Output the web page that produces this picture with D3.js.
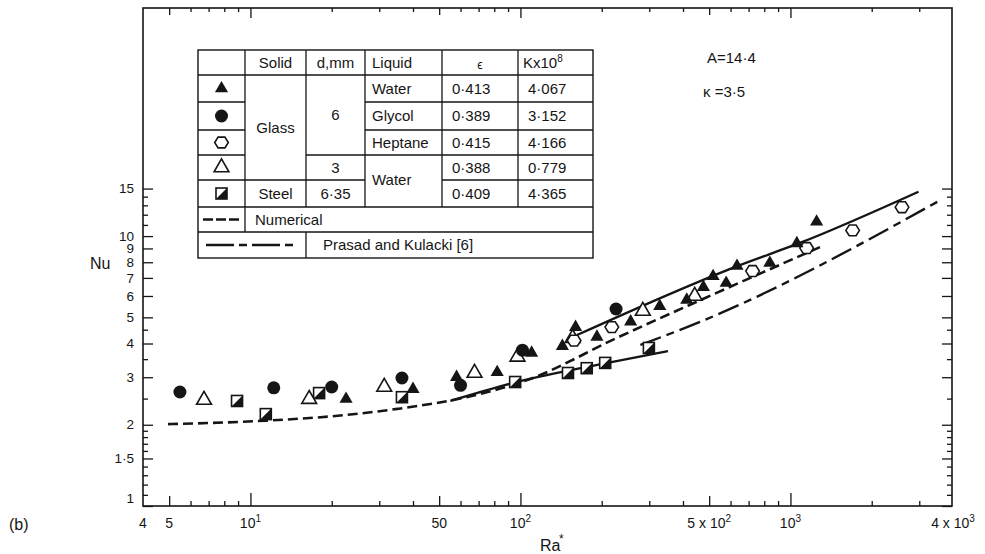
<!DOCTYPE html>
<meta charset="utf-8">
<script src="https://d3js.org/d3.v7.min.js"></script>
<style>
  body { margin: 0; background: #fff; }
  text { font-family: "Liberation Sans", Arial, sans-serif; fill: #151515; }
</style>
<div id="my_dataviz"></div>
<script>

// ---- data (Ra*, Nu) ----
var waterGlass6 = [[22.6,2.49],[40,2.71],[58,3.0],[82,3.13],[110,3.69],[143,3.91],[160,4.6],[192,4.23],
  [256,4.82],[328,5.5],[413,5.8],[476,6.47],[517,7.1],[578,6.7],[634,7.75],[839,7.95],[1056,9.4],[1250,11.3]]
var glycol = [[5.48,2.645],[12.2,2.74],[20,2.76],[36.4,2.98],[60,2.8],[101.7,3.78],[226,5.37]]
var heptane = [[158,4.1],[218,4.6],[724,7.42],[1148,9.03],[1700,10.5],[2590,12.8]]
var waterGlass3 = [[6.73,2.47],[16.5,2.49],[31.3,2.76],[67.6,3.11],[97.5,3.57],[156,4.19],[284,5.28],[442,6.0]]
var steel = [[8.92,2.45],[11.4,2.19],[17.96,2.62],[36.4,2.53],[95.6,2.88],[150,3.11],[176,3.24],[206,3.39],[299,3.85]]

var numerical = [[4.95,2.01],[11.3,2.07],[20,2.15],[35,2.29],[63,2.53],[108,2.95],[228,4.2],[460,5.77],[1286,9.1]]
var lowerSolid = [[55,2.45],[97,2.88],[210,3.39],[352,3.75]]
var upperSolid = [[162,4.3],[650,7.81],[1083,9.43],[2980,14.6]]
var prasad = [[278,3.95],[460,4.8],[3644,13.7]]

// ticks
var xMajor = [10, 100, 1000]
var xMid = [5, 50, 500]
var xMinor = [6,7,8,9,20,30,40,60,70,80,90,200,300,400,600,700,800,900,2000,3000]
var yMajor = [1, 1.5, 2, 3, 4, 5, 6, 7, 8, 9, 10, 15]
var yLabels = ["1", "1·5", "2", "3", "4", "5", "6", "7", "8", "9", "10", "15"]
var yMinor = [1.1,1.2,1.3,1.4,1.6,1.7,1.8,1.9,2.5,3.5,4.5,11,12,13,14]
var xLabels = [[4,"4",""],[5,"5",""],[10,"10","1"],[50,"50",""],[100,"10","2"],[500,"5 x 10","2"],[1000,"10","3"],[4000,"4 x 10","3"]]

// legend table rows
var epsVals = ["0·413", "0·389", "0·415", "0·388", "0·409"]
var kVals = ["4·067", "3·152", "4·166", "0·779", "4·365"]
var liquids = ["Water", "Glycol", "Heptane"]

var ink = "#151515"
var W = 985, H = 554
var pL = 143, pR = 952, pT = 8, pB = 506

var svg = d3.select("#my_dataviz").append("svg")
  .attr("width", W).attr("height", H)

var x = d3.scaleLog().domain([4, 4000]).range([pL, 953])
var y = d3.scaleLog().domain([1, 70]).range([pB, pT])

// frame
svg.append("rect")
  .attr("x", pL).attr("y", pT)
  .attr("width", pR - pL).attr("height", pB - pT)
  .attr("fill", "none").attr("stroke", ink).attr("stroke-width", 1.6)

// tick marks, all pointing inwards
function ticks(axisFn, scale, vals, size, tr) {
  var g = svg.append("g").attr("transform", tr)
    .call(axisFn(scale).tickValues(vals).tickSize(size).tickFormat(""))
  g.select(".domain").remove()
  g.selectAll("line").attr("stroke", ink).attr("stroke-width", 1.3)
}
ticks(d3.axisBottom, x, xMajor, -13, "translate(0," + pB + ")")
ticks(d3.axisBottom, x, xMid, -10, "translate(0," + pB + ")")
ticks(d3.axisBottom, x, xMinor, -5, "translate(0," + pB + ")")
ticks(d3.axisTop, x, xMajor, -10, "translate(0," + pT + ")")
ticks(d3.axisTop, x, xMid, -7, "translate(0," + pT + ")")
ticks(d3.axisTop, x, xMinor, -4, "translate(0," + pT + ")")
ticks(d3.axisLeft, y, yMajor, -10, "translate(" + pL + ",0)")
ticks(d3.axisLeft, y, yMinor, -5, "translate(" + pL + ",0)")
ticks(d3.axisRight, y, yMajor, -10, "translate(" + pR + ",0)")
ticks(d3.axisRight, y, yMinor, -5, "translate(" + pR + ",0)")

// y labels
svg.append("g").selectAll("text").data(yMajor).enter().append("text")
  .attr("x", 134)
  .attr("y", function(d, i) { return d == 1 ? y(d) - 8 : y(d) })
  .attr("dy", "0.35em")
  .attr("text-anchor", "end")
  .style("font-size", "13.5px")
  .text(function(d, i) { return yLabels[i] })

// x labels with superscripts
var xl = svg.append("g").selectAll("text").data(xLabels).enter().append("text")
  .attr("x", function(d) { return x(d[0]) })
  .attr("y", 528)
  .attr("text-anchor", "middle")
  .style("font-size", "14px")
xl.append("tspan").text(function(d) { return d[1] })
xl.append("tspan").attr("dy", -6).style("font-size", "10px").text(function(d) { return d[2] })

svg.append("text").attr("x", 540).attr("y", 551).style("font-size", "16px").text("Ra")
svg.append("text").attr("x", 559).attr("y", 543).style("font-size", "12px").text("*")
svg.append("text").attr("x", 90).attr("y", 269).style("font-size", "16px").text("Nu")
svg.append("text").attr("x", 9).attr("y", 530).style("font-size", "16px").text("(b)")

svg.append("text").attr("x", 707).attr("y", 63).style("font-size", "15px").text("A=14·4")
svg.append("text").attr("x", 703).attr("y", 97).style("font-size", "15px").text("κ =3·5")

// curves
var line = d3.line().x(function(d) { return x(d[0]) }).y(function(d) { return y(d[1]) }).curve(d3.curveMonotoneX)
function curve(data, dash, w) {
  svg.append("path").datum(data).attr("d", line)
    .attr("fill", "none").attr("stroke", ink).attr("stroke-width", w)
    .attr("stroke-dasharray", dash)
}
curve(numerical, "10,5", 2.6)
curve(lowerSolid, null, 2.4)
curve(upperSolid, null, 2.4)
curve(prasad, "22,6,8,6", 2.4)

// marker drawing
var hexPath = function(r) {
  var p = []
  for (var k = 0; k < 6; k++) { var a = Math.PI / 3 * k; p.push([r * Math.cos(a), r * 0.92 * Math.sin(a)]) }
  return "M" + p.join("L") + "Z"
}
function marker(g, type) {
  if (type == "ftri") g.append("path").attr("d", d3.symbol(d3.symbolTriangle, 75)()).attr("fill", ink)
  if (type == "otri") g.append("path").attr("d", d3.symbol(d3.symbolTriangle, 95)()).attr("fill", "#fff").attr("stroke", ink).attr("stroke-width", 1.6)
  if (type == "fcirc") g.append("circle").attr("r", 6.5).attr("fill", ink)
  if (type == "hex") g.append("path").attr("d", hexPath(6.8)).attr("fill", "#fff").attr("stroke", ink).attr("stroke-width", 1.6)
  if (type == "hsq") {
    g.append("rect").attr("x", -5.5).attr("y", -5.5).attr("width", 11).attr("height", 11).attr("fill", "#fff").attr("stroke", ink).attr("stroke-width", 1.6)
    g.append("path").attr("d", "M5.5,-5.5L5.5,5.5L-5.5,5.5Z").attr("fill", ink)
  }
}
function series(data, type) {
  svg.append("g").selectAll("g").data(data).enter().append("g")
    .attr("transform", function(d) { return "translate(" + x(d[0]) + "," + y(d[1]) + ")" })
    .each(function() { marker(d3.select(this), type) })
}
series(steel, "hsq")
series(waterGlass3, "otri")
series(heptane, "hex")
series(glycol, "fcirc")
series(waterGlass6, "ftri")

// ---- legend table ----
var cx = [198, 245, 306, 365, 442, 518, 593]
var ry = [50, 75, 102, 130, 155, 180, 207, 232, 258]
var tb = svg.append("g")
tb.append("rect").attr("x", cx[0]).attr("y", ry[0]).attr("width", cx[6] - cx[0]).attr("height", ry[8] - ry[0])
  .attr("fill", "#fff").attr("stroke", ink).attr("stroke-width", 1.4)
function seg(x1, y1, x2, y2) {
  tb.append("line").attr("x1", x1).attr("y1", y1).attr("x2", x2).attr("y2", y2)
    .attr("stroke", ink).attr("stroke-width", 1.3)
}
// vertical rules
for (var c = 1; c <= 5; c++) seg(cx[c], ry[0], cx[c], ry[6])
seg(cx[1], ry[6], cx[1], ry[7])
seg(cx[2], ry[7], cx[2], ry[8])
// horizontal rules
seg(cx[0], ry[1], cx[6], ry[1])
for (var r = 2; r <= 5; r++) { seg(cx[0], ry[r], cx[1], ry[r]); seg(cx[4], ry[r], cx[6], ry[r]) }
seg(cx[3], ry[2], cx[4], ry[2]); seg(cx[3], ry[3], cx[4], ry[3])
seg(cx[2], ry[4], cx[4], ry[4])
seg(cx[1], ry[5], cx[3], ry[5])
seg(cx[0], ry[6], cx[6], ry[6]); seg(cx[0], ry[7], cx[6], ry[7])

function cell(txt, xx, yy, anchor) {
  return tb.append("text").attr("x", xx).attr("y", yy).attr("dy", "0.36em")
    .attr("text-anchor", anchor || "middle").style("font-size", "15px").text(txt)
}
var mid = function(a, b) { return (a + b) / 2 }
cell("Solid", mid(cx[1], cx[2]), mid(ry[0], ry[1]))
cell("d,mm", mid(cx[2], cx[3]), mid(ry[0], ry[1]))
cell("Liquid", cx[3] + 7, mid(ry[0], ry[1]), "start")
cell("ϵ", mid(cx[4], cx[5]), mid(ry[0], ry[1]) + 2).style("font-size", "12px")
var kh = cell("K", cx[5] + 5, mid(ry[0], ry[1]), "start")
kh.append("tspan").text("x10")
kh.append("tspan").attr("dy", -6).style("font-size", "10px").text("8")
liquids.forEach(function(t, i) { cell(t, cx[3] + 7, mid(ry[i + 1], ry[i + 2]), "start") })
cell("Water", cx[3] + 7, ry[5], "start")
cell("Glass", mid(cx[1], cx[2]), mid(ry[1], ry[5]))
cell("Steel", mid(cx[1], cx[2]), mid(ry[5], ry[6]))
cell("6", mid(cx[2], cx[3]), mid(ry[1], ry[4]))
cell("3", mid(cx[2], cx[3]), mid(ry[4], ry[5]))
cell("6·35", mid(cx[2], cx[3]), mid(ry[5], ry[6]))
epsVals.forEach(function(t, i) { cell(t, cx[4] + 10, mid(ry[i + 1], ry[i + 2]), "start") })
kVals.forEach(function(t, i) { cell(t, cx[5] + 10, mid(ry[i + 1], ry[i + 2]), "start") })
cell("Numerical", cx[1] + 10, mid(ry[6], ry[7]), "start")
cell("Prasad  and  Kulacki [6]", cx[2] + 17, mid(ry[7], ry[8]), "start")

// legend symbols
var legTypes = ["ftri", "fcirc", "hex", "otri", "hsq"]
legTypes.forEach(function(t, i) {
  var g = tb.append("g").attr("transform", "translate(" + mid(cx[0], cx[1]) + "," + mid(ry[i + 1], ry[i + 2]) + ")")
  marker(g, t)
})
tb.append("line").attr("x1", cx[0] + 5).attr("x2", cx[1] - 5)
  .attr("y1", mid(ry[6], ry[7])).attr("y2", mid(ry[6], ry[7]))
  .attr("stroke", ink).attr("stroke-width", 2.4).attr("stroke-dasharray", "10,3")
tb.append("line").attr("x1", cx[0] + 8).attr("x2", cx[2] - 10)
  .attr("y1", mid(ry[7], ry[8])).attr("y2", mid(ry[7], ry[8]))
  .attr("stroke", ink).attr("stroke-width", 2.4).attr("stroke-dasharray", "28,5,8,5")

</script>
